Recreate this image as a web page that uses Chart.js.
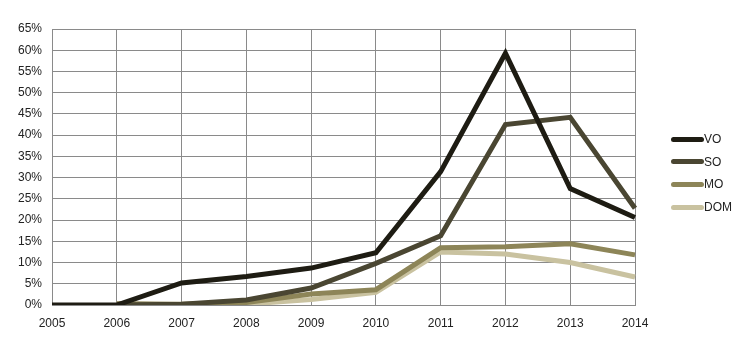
<!DOCTYPE html>
<html>
<head>
<meta charset="UTF-8">
<script src="https://cdn.jsdelivr.net/npm/chart.js@4"></script>
<style>
  html, body { margin: 0; padding: 0; background: #fff; }
  .wrap { position: relative; width: 746px; height: 349px; }
  #legend { position: absolute; left: 671px; top: 128px; font: 12px "Liberation Sans", Arial, sans-serif; color: #222; }
  .item { display: flex; align-items: center; height: 22.6px; }
  .swatch { width: 33px; height: 5px; border-radius: 3px; }
</style>
</head>
<body>
<div class="wrap">
  <canvas id="c" width="746" height="349"></canvas>
  <div id="legend"></div>
</div>
<script>
// data (percent)
const years = ['2005', '2006', '2007', '2008', '2009', '2010', '2011', '2012', '2013', '2014'];
const seriesNames = ['VO', 'SO', 'MO', 'DOM'];
const vo  = [0, 0, 5.2, 6.7, 8.7, 12.3, 31.4, 59.3, 27.4, 20.6];
const so  = [null, 0, 0.2, 1.2, 4.0, 9.8, 16.3, 42.5, 44.2, 22.8];
const mo  = [null, 0.3, 0.2, 0.6, 2.6, 3.6, 13.5, 13.7, 14.4, 11.8];
const dom = [null, 0.3, 0, 0.2, 1.3, 3.0, 12.5, 12.0, 10.0, 6.6];
const colors = ['#1e1c13', '#4a4632', '#8d8558', '#c9c2a0'];

const values = [vo, so, mo, dom];

const datasets = seriesNames.map((name, i) => ({
  label: name,
  data: values[i],
  borderColor: colors[i],
  backgroundColor: colors[i],
  borderWidth: 5,
  pointRadius: 0,
  tension: 0,
  spanGaps: false,
}));

const font = { family: '"Liberation Sans", Arial, sans-serif', size: 12 };

new Chart(document.getElementById('c'), {
  type: 'line',
  data: { labels: years, datasets },
  options: {
    responsive: false,
    animation: false,
    layout: { padding: { top: 29, right: 111, bottom: 0, left: 0 } },
    plugins: {
      legend: { display: false },
      tooltip: { enabled: false },
    },
    scales: {
      x: {
        offset: false,
        grid: { color: '#8a8a8a', lineWidth: 1, drawTicks: false },
        border: { color: '#8a8a8a' },
        ticks: { color: '#222', font, padding: 11, maxRotation: 0 },
        afterFit: s => { s.height = 44; },
      },
      y: {
        min: 0,
        max: 65,
        grid: { color: '#8a8a8a', lineWidth: 1, drawTicks: false },
        border: { color: '#8a8a8a' },
        ticks: { stepSize: 5, color: '#222', font, padding: 10, callback: v => v + '%' },
        afterFit: s => { s.width = 52; },
      },
    },
  },
});

// legend as html, built from the same names and colours
const legend = document.getElementById('legend');
seriesNames.forEach((name, i) => {
  const row = document.createElement('div');
  row.className = 'item';
  row.innerHTML = `<span class="swatch" style="background:${colors[i]}"></span><span>${name}</span>`;
  legend.appendChild(row);
});
</script>
</body>
</html>
